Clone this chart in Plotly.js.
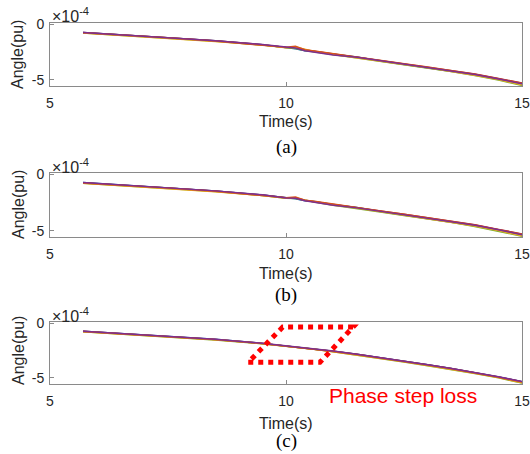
<!DOCTYPE html>
<html>
<head>
<meta charset="utf-8">
<script src="https://cdn.plot.ly/plotly-3.0.1.min.js"></script>
<style>html,body{margin:0;padding:0;background:#fff}#plot{width:530px;height:454px}</style>
</head>
<body>
<div id="plot"></div>
<script>
// ---- data (angle in units of 1e-4 pu) ----
const time = [5.7, 6.5, 7.5, 8.5, 9.5, 10.0, 10.2, 10.4, 10.6, 11.0, 11.5, 12.0, 12.5, 13.0, 13.5, 14.0, 14.5, 15.0];

// panel (a)
const aBlue   = [-0.75,-0.95,-1.20,-1.50,-1.85,-2.10,-2.20,-2.40,-2.45,-2.70,-2.95,-3.30,-3.60,-3.90,-4.20,-4.55,-4.95,-5.40];
const aOrange = [-0.78,-0.97,-1.22,-1.52,-1.85,-2.08,-1.98,-2.30,-2.42,-2.65,-2.92,-3.25,-3.55,-3.85,-4.15,-4.50,-4.90,-5.30];
const aYellow = [-0.80,-1.00,-1.25,-1.55,-1.88,-2.12,-2.05,-2.28,-2.45,-2.72,-3.00,-3.32,-3.62,-3.92,-4.22,-4.58,-4.98,-5.45];
const aPurple = [-0.74,-0.94,-1.18,-1.48,-1.83,-2.10,-2.15,-2.38,-2.52,-2.76,-2.98,-3.28,-3.58,-3.88,-4.18,-4.52,-4.92,-5.35];
const aGreen  = [-0.80,-1.00,-1.24,-1.54,-1.88,-2.13,-2.18,-2.36,-2.48,-2.74,-3.02,-3.35,-3.65,-3.95,-4.26,-4.62,-5.02,-5.50];
const aRed    = [-0.76,-0.96,-1.20,-1.50,-1.84,-2.09,-2.12,-2.32,-2.44,-2.68,-2.94,-3.26,-3.54,-3.84,-4.14,-4.48,-4.88,-5.28];

// panel (b)
const bBlue   = [-0.75,-0.95,-1.20,-1.50,-1.85,-2.10,-2.18,-2.36,-2.42,-2.70,-2.95,-3.30,-3.60,-3.90,-4.20,-4.55,-4.95,-5.40];
const bOrange = [-0.78,-0.97,-1.22,-1.52,-1.85,-2.08,-2.02,-2.30,-2.40,-2.66,-2.92,-3.25,-3.55,-3.85,-4.15,-4.50,-4.90,-5.30];
const bYellow = [-0.80,-1.00,-1.25,-1.55,-1.88,-2.12,-2.08,-2.30,-2.44,-2.72,-3.00,-3.32,-3.62,-3.92,-4.22,-4.58,-4.98,-5.45];
const bPurple = [-0.74,-0.94,-1.18,-1.48,-1.83,-2.10,-2.14,-2.36,-2.48,-2.74,-2.98,-3.28,-3.58,-3.88,-4.18,-4.52,-4.92,-5.35];
const bGreen  = [-0.80,-1.00,-1.24,-1.54,-1.88,-2.13,-2.16,-2.34,-2.46,-2.74,-3.02,-3.35,-3.65,-3.95,-4.26,-4.62,-5.02,-5.48];
const bRed    = [-0.76,-0.96,-1.20,-1.50,-1.84,-2.09,-2.10,-2.31,-2.43,-2.68,-2.94,-3.26,-3.54,-3.84,-4.14,-4.48,-4.88,-5.28];

// panel (c)
const cBlue   = [-0.75,-0.94,-1.18,-1.48,-1.85,-2.07,-2.16,-2.26,-2.36,-2.56,-2.84,-3.14,-3.46,-3.80,-4.14,-4.50,-4.90,-5.35];
const cOrange = [-0.77,-0.97,-1.21,-1.50,-1.86,-2.08,-2.17,-2.27,-2.37,-2.58,-2.86,-3.17,-3.49,-3.83,-4.17,-4.53,-4.93,-5.38];
const cYellow = [-0.79,-0.99,-1.23,-1.52,-1.87,-2.09,-2.18,-2.28,-2.38,-2.60,-2.89,-3.20,-3.52,-3.86,-4.20,-4.57,-4.97,-5.43];
const cPurple = [-0.74,-0.94,-1.18,-1.48,-1.84,-2.06,-2.15,-2.25,-2.35,-2.55,-2.83,-3.13,-3.45,-3.79,-4.13,-4.49,-4.89,-5.33];
const cGreen  = [-0.79,-0.99,-1.23,-1.53,-1.88,-2.10,-2.19,-2.29,-2.39,-2.61,-2.90,-3.22,-3.54,-3.88,-4.22,-4.59,-4.99,-5.46];
const cRed    = [-0.75,-0.95,-1.19,-1.49,-1.85,-2.07,-2.16,-2.26,-2.36,-2.56,-2.84,-3.14,-3.46,-3.80,-4.14,-4.50,-4.90,-5.34];

const xTicks = [5, 10, 15];
const yTicks = [-5, 0];
const panelLabels = ['(a)', '(b)', '(c)'];
const xTitle = 'Time(s)';
const yTitle = 'Angle(pu)';
const expLabel = '×10<sup>-4</sup>';
const noteText = 'Phase step loss';
// dotted parallelogram outline (time, angle) for panel (c)
const boxX = [9.2, 10.72, 11.42, 9.93];
const boxY = [-3.57, -3.57, -0.36, -0.36];

// ---- styling ----
const colors = {blue:'#0072BD', orange:'#D95319', yellow:'#EDB120', purple:'#7E2F8E', green:'#77AC30', red:'#A2142F'};
const panels = [
  {s:[aBlue,aOrange,aYellow,aPurple,aGreen,aRed], xa:'x', ya:'y', dom:[0.8106,0.9493]},
  {s:[bBlue,bOrange,bYellow,bPurple,bGreen,bRed], xa:'x2', ya:'y2', dom:[0.478,0.619]},
  {s:[cBlue,cOrange,cYellow,cPurple,cGreen,cRed], xa:'x3', ya:'y3', dom:[0.1542,0.2907]}
];
const order = ['blue','red','green','yellow','orange','purple'];
const idx = {blue:0, orange:1, yellow:2, purple:3, green:4, red:5};

const traces = [];
panels.forEach(p => {
  order.forEach(c => {
    traces.push({x: time, y: p.s[idx[c]], xaxis: p.xa, yaxis: p.ya, type:'scatter', mode:'lines',
      line:{color: colors[c], width: 1.5}, hoverinfo:'skip', showlegend:false});
  });
});

const axisCol = '#8a8a8a';
const tickFont = {family:'Liberation Sans, Arial, sans-serif', size:14, color:'#262626'};
function xax(anchor){
  return {domain:[0.0943,0.985], anchor:anchor, range:[5,15], tickvals:xTicks, ticktext:xTicks.map(String),
    showgrid:false, zeroline:false, showline:true, mirror:true, linecolor:axisCol, linewidth:1,
    ticks:'inside', ticklen:4, tickcolor:axisCol, tickfont:tickFont, ticklabelstandoff:4,
    ticklabeloverflow:'allow'};
}
function yax(anchor, dom){
  return {domain:dom, anchor:anchor, range:[-5.55,0.1], tickvals:yTicks, ticktext:['-5','0'],
    showgrid:false, zeroline:false, showline:true, mirror:true, linecolor:axisCol, linewidth:1,
    ticks:'inside', ticklen:4, tickcolor:axisCol, tickfont:tickFont, ticklabelstandoff:2,
    ticklabeloverflow:'allow'};
}

const annFont = {family:'Liberation Sans, Arial, sans-serif', size:16, color:'#262626'};
const anns = [];
const titleY = [122, 273, 423];
const labelY = [147, 295, 441];
const expY = [15, 166, 315];
const angY = [55, 205, 351];
for (let i=0;i<3;i++){
  anns.push({xref:'paper', yref:'paper', x:286/530, y:1-titleY[i]/454, text:xTitle, showarrow:false,
    xanchor:'center', yanchor:'middle', font:annFont});
  anns.push({xref:'paper', yref:'paper', x:286/530, y:1-labelY[i]/454, text:panelLabels[i], showarrow:false,
    xanchor:'center', yanchor:'middle', font:{family:'Liberation Serif, Times New Roman, serif', size:19, color:'#000'}});
  anns.push({xref:'paper', yref:'paper', x:50/530, y:1-expY[i]/454, text:expLabel, showarrow:false,
    xanchor:'left', yanchor:'middle', font:{family:'Liberation Sans, Arial, sans-serif', size:16, color:'#262626'}});
  anns.push({xref:'paper', yref:'paper', x:18/530, y:1-angY[i]/454, text:yTitle, showarrow:false, textangle:-90,
    xanchor:'center', yanchor:'middle', font:annFont});
}
anns.push({xref:'paper', yref:'paper', x:403/530, y:1-395/454, text:noteText, showarrow:false,
  xanchor:'center', yanchor:'middle', font:{family:'Liberation Sans, Arial, sans-serif', size:21, color:'#ff0000'}});

let path = 'M ' + boxX.map((v,i)=> v + ',' + boxY[i]).join(' L ') + ' Z';
const shapes = [{type:'path', xref:'x3', yref:'y3', path:path, line:{color:'#ff0000', width:5, dash:'dot'}, layer:'above'}];

const layout = {
  width:530, height:454, margin:{l:0,r:0,t:0,b:0}, paper_bgcolor:'#fff', plot_bgcolor:'#fff',
  showlegend:false,
  xaxis:xax('y'), yaxis:yax('x', panels[0].dom),
  xaxis2:xax('y2'), yaxis2:yax('x2', panels[1].dom),
  xaxis3:xax('y3'), yaxis3:yax('x3', panels[2].dom),
  annotations:anns, shapes:shapes
};
Plotly.newPlot('plot', traces, layout, {staticPlot:true, displayModeBar:false});
</script>
</body>
</html>
